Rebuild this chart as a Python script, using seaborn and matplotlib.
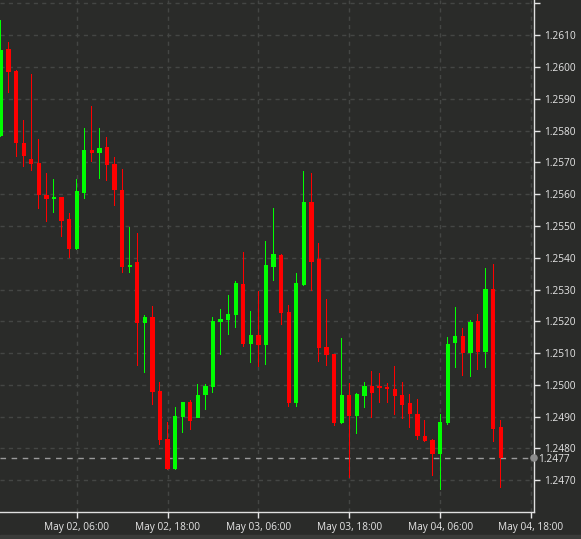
import matplotlib
matplotlib.use("Agg")
import matplotlib.pyplot as plt
import matplotlib.dates as mdates
from matplotlib.patches import Rectangle
import numpy as np
import pandas as pd
import seaborn as sns

# hourly candles, first one is May 01 20:00
start_time = "2022-05-01 20:00"

opens = [1.25783, 1.26056, 1.25988, 1.25762, 1.25710, 1.25698, 1.25599, 1.25584, 1.25590, 1.25521,
         1.25426, 1.25603, 1.25739, 1.25730, 1.25748, 1.25695, 1.25613, 1.25371, 1.25388, 1.25195,
         1.25212, 1.24981, 1.24829, 1.24735, 1.24899, 1.24945, 1.24897, 1.24968, 1.24994, 1.25199,
         1.25204, 1.25220, 1.25317, 1.25129, 1.25157, 1.25125, 1.25372, 1.25409, 1.25230, 1.24944,
         1.25314, 1.25576, 1.25395, 1.25118, 1.25097, 1.24879, 1.24968, 1.24903, 1.24966, 1.24996,
         1.24996, 1.24992, 1.24987, 1.24969, 1.24942, 1.24909, 1.24840, 1.24826, 1.24784, 1.24879,
         1.25131, 1.25154, 1.25101, 1.25202, 1.25104, 1.25301, 1.24866]
highs = [1.26148, 1.26080, 1.25990, 1.25833, 1.25978, 1.25773, 1.25666, 1.25648, 1.25592, 1.25540,
         1.25648, 1.25807, 1.25878, 1.25807, 1.25779, 1.25716, 1.25678, 1.25496, 1.25477, 1.25220,
         1.25248, 1.25010, 1.24884, 1.24931, 1.24947, 1.24952, 1.25003, 1.25003, 1.25214, 1.25238,
         1.25283, 1.25328, 1.25419, 1.25233, 1.25296, 1.25454, 1.25555, 1.25412, 1.25251, 1.25351,
         1.25674, 1.25666, 1.25445, 1.25269, 1.25098, 1.25146, 1.25005, 1.24976, 1.25008, 1.25044,
         1.25036, 1.25007, 1.25059, 1.25010, 1.24970, 1.24954, 1.24889, 1.24829, 1.24908, 1.25150,
         1.25246, 1.25178, 1.25204, 1.25223, 1.25367, 1.25380, 1.24889]
lows = [1.25780, 1.25919, 1.25718, 1.25686, 1.25674, 1.25552, 1.25513, 1.25540, 1.25464, 1.25400,
        1.25424, 1.25584, 1.25700, 1.25647, 1.25641, 1.25563, 1.25351, 1.25352, 1.25059, 1.25038,
        1.24936, 1.24811, 1.24732, 1.24732, 1.24849, 1.24858, 1.24896, 1.24921, 1.24973, 1.25094,
        1.25157, 1.25178, 1.25120, 1.25070, 1.25055, 1.25062, 1.25328, 1.25188, 1.24929, 1.24929,
        1.25312, 1.25296, 1.25073, 1.25059, 1.24870, 1.24877, 1.24706, 1.24845, 1.24926, 1.24895,
        1.24942, 1.24942, 1.24905, 1.24892, 1.24863, 1.24826, 1.24821, 1.24713, 1.24669, 1.24874,
        1.25052, 1.25028, 1.25024, 1.25047, 1.25052, 1.24821, 1.24674]
closes = [1.26054, 1.25985, 1.25760, 1.25720, 1.25696, 1.25598, 1.25585, 1.25590, 1.25516, 1.25426,
          1.25610, 1.25739, 1.25729, 1.25746, 1.25692, 1.25613, 1.25370, 1.25377, 1.25195, 1.25214,
          1.24978, 1.24826, 1.24734, 1.24902, 1.24945, 1.24887, 1.24968, 1.24996, 1.25201, 1.25207,
          1.25223, 1.25319, 1.25128, 1.25157, 1.25125, 1.25377, 1.25412, 1.25227, 1.24944, 1.25319,
          1.25576, 1.25388, 1.25115, 1.25094, 1.24879, 1.24968, 1.24903, 1.24971, 1.24996, 1.24973,
          1.24991, 1.24986, 1.24965, 1.24937, 1.24907, 1.24840, 1.24823, 1.24784, 1.24884, 1.25128,
          1.25154, 1.25099, 1.25198, 1.25104, 1.25301, 1.24860, 1.24770]

last_price = 1.2477
y_ticks = [1.2470, 1.2480, 1.2490, 1.2500, 1.2510, 1.2520, 1.2530, 1.2540,
           1.2550, 1.2560, 1.2570, 1.2580, 1.2590, 1.2600, 1.2610, 1.2620]

BG = "#2a2b29"
UP = "#00ff00"
DOWN = "#ff0000"
TXT = "#e6e6e6"

sns.set_theme(style="dark", rc={"axes.facecolor": BG, "figure.facecolor": BG})
plt.rcParams["font.family"] = ["Open Sans", "DejaVu Sans"]

df = pd.DataFrame({
    "time": pd.date_range(start_time, periods=len(opens), freq="h"),
    "open": opens, "high": highs, "low": lows, "close": closes,
})
df["x"] = mdates.date2num(df["time"])
df["up"] = df["close"] >= df["open"]
df["color"] = np.where(df["up"], UP, DOWN)
body = (df["close"] - df["open"]).abs().clip(lower=0.00005)

fig = plt.figure(figsize=(5.81, 5.39), dpi=100)
ax = fig.add_axes([0.0, 27 / 539, 534 / 581, 512 / 539])

hour = 1 / 24
# wicks as very thin bars (about one pixel), bodies on top
ax.bar(df["x"], df["high"] - df["low"], bottom=df["low"], width=0.135 * hour,
       color=df["color"], linewidth=0, zorder=3, antialiased=False)
ax.bar(df["x"], body, bottom=df[["open", "close"]].min(axis=1), width=0.56 * hour,
       color=df["color"], linewidth=0, zorder=4, antialiased=False)

# current price line and marker on the right axis
ax.axhline(last_price, color="#9a9a9a", linestyle=(0, (4, 4)), linewidth=1, zorder=2)
t0 = pd.Timestamp("2022-05-02 06:00")
x_left = mdates.date2num(t0 - pd.Timedelta(hours=10.13))
x_right = mdates.date2num(t0 + pd.Timedelta(hours=60.4))
sns.scatterplot(x=[x_right], y=[last_price], ax=ax, color="#8c8c8c", s=30,
                edgecolor="none", zorder=6)
ax.collections[-1].set_clip_on(False)

ax.set_xlim(x_left, x_right)
ax.set_ylim(1.24600, 1.26211)

ax.xaxis.set_major_locator(mdates.HourLocator(byhour=[6, 18]))
ax.xaxis.set_major_formatter(mdates.DateFormatter("%b %d, %H:%M"))
ax.yaxis.tick_right()
ax.set_yticks(y_ticks)
# the top gridline's label is cut off in the original
ax.set_yticklabels([f"{v:.4f}" if v < 1.2615 else "" for v in y_ticks])
ax.set_yticks([last_price], minor=True)
ax.set_yticklabels([f"{last_price:.4f}"], minor=True)

ax.grid(True, which="major", color="#444644", linestyle=(0, (3, 3)), linewidth=1)
ax.grid(False, which="minor")
ax.tick_params(axis="both", which="both", colors=TXT, labelsize=7.3, length=4, width=1,
               direction="out", pad=3)
ax.tick_params(axis="y", which="minor", length=0)
ax.tick_params(axis="x", bottom=True)
for side in ["top", "left"]:
    ax.spines[side].set_visible(False)
for side in ["right", "bottom"]:
    ax.spines[side].set_visible(True)
    ax.spines[side].set_color("#e0e0e0")
    ax.spines[side].set_linewidth(1)
ax.set_xlabel("")
ax.set_ylabel("")

fig.patches.append(Rectangle((0, 0), 1, 4 / 539, transform=fig.transFigure,
                             color="#3a3b39", zorder=0))

fig.savefig("out.png", dpi=100, facecolor=BG)
plt.close(fig)
